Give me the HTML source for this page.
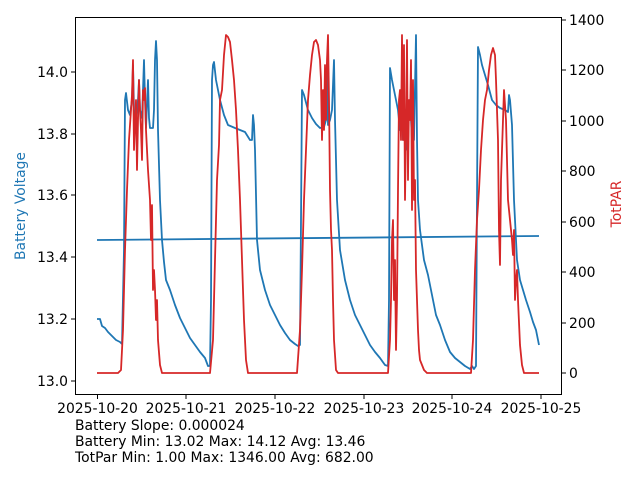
<!DOCTYPE html>
<html><head><meta charset="utf-8"><style>body{margin:0;background:#fff}svg{display:block;font-family:"DejaVu Sans","Liberation Sans",sans-serif}</style></head><body>
<svg width="640" height="480" viewBox="0 0 640 480" xmlns="http://www.w3.org/2000/svg">
<rect width="640" height="480" fill="#fff"/>
<g fill="none" stroke-linejoin="round" stroke-width="1.8">
<polyline stroke="#1f77b4" points="97,240 539,236"/>
<polyline stroke="#1f77b4" points="97,319 100,319 102,326 105,328 108,332 112,336 116,340 120,342 122,344 124,250 125,100 126,93 128,110 130,115 132,100 133,65 134,110 136,118 138,100 139,80 140,110 142,118 143,90 144,60 145,100 146,128 148,80 149,118 150,128 153,128 154,110 155,60 156,41 157,60 158,130 160,200 162,240 164,262 166,280 170,290 175,305 180,318 185,328 190,338 195,345 200,352 205,358 208,366 210,366 211,300 212,80 213,65 214,62 216,80 220,100 224,115 228,125 235,128 240,130 245,132 250,140 252,140 253,115 254,125 255,150 257,240 260,270 265,290 270,305 275,315 280,325 285,333 290,340 295,344 298,346 300,345 301,220 302,90 304,95 308,110 312,118 316,124 320,128 324,127 326,120 327,63 328,125 330,120 332,110 334,60 335,120 337,200 340,250 345,280 350,300 355,315 360,325 365,335 370,345 375,352 380,358 385,365 388,366 389,300 390,68 392,80 395,95 398,110 400,130 402,100 403,140 405,110 406,150 408,130 410,100 412,140 414,140 416,35 417,140 418,200 420,230 424,260 428,275 432,295 436,315 440,325 445,340 450,352 455,358 460,362 465,366 470,369 472,366 474,369 476,366 477,200 478,47 480,55 482,65 485,75 488,85 492,100 496,105 500,108 505,110 508,112 509,95 510,100 512,125 514,200 517,260 520,280 523,290 526,300 530,312 533,322 536,330 538,340 539,345"/>
<polyline stroke="#d62728" points="97,373 118,373 121,370 123,330 125,250 127,190 129,140 131,110 132,95 133,60 134,150 136,100 137,170 138,120 139,80 140,110 141,130 142,160 143,90 144,100 145,88 146,130 148,170 150,200 151,240 152,205 153,290 154,270 155,290 156,320 157,300 158,340 160,365 162,373 210,373 213,340 215,260 217,180 219,145 220,100 222,90 224,55 226,35 228,37 230,42 232,60 234,80 236,110 238,150 240,200 242,260 244,320 246,360 248,373 297,373 300,330 302,270 304,200 306,150 308,100 310,75 312,55 314,42 316,40 318,45 320,60 321,80 322,140 323,90 324,130 325,65 326,120 327,60 328,35 329,100 330,190 331,230 332,250 333,300 334,340 336,370 338,373 388,373 390,340 391,300 392,240 393,220 394,300 395,260 396,350 397,300 398,190 399,100 400,90 401,140 402,35 403,140 404,45 405,200 406,130 407,40 408,180 409,100 410,120 411,60 412,210 413,80 414,200 415,180 416,270 417,300 418,330 419,350 420,360 422,365 424,370 427,373 471,373 473,340 475,270 477,220 479,190 481,150 483,120 485,100 487,90 489,70 491,55 493,48 495,55 496,80 498,140 499,230 500,265 501,180 502,150 504,90 506,120 508,200 510,220 512,240 513,255 514,230 515,300 516,280 517,270 518,300 520,345 522,365 524,373 539,373"/>
</g>
<rect x="75.5" y="17.5" width="486" height="377" fill="none" stroke="#000" stroke-width="1"/>
<g stroke="#000" stroke-width="1">
<line x1="71" y1="381" x2="75" y2="381"/><line x1="71" y1="319" x2="75" y2="319"/><line x1="71" y1="257" x2="75" y2="257"/><line x1="71" y1="195" x2="75" y2="195"/><line x1="71" y1="134" x2="75" y2="134"/><line x1="71" y1="72" x2="75" y2="72"/>
<line x1="562" y1="373" x2="566" y2="373"/><line x1="562" y1="323" x2="566" y2="323"/><line x1="562" y1="272" x2="566" y2="272"/><line x1="562" y1="222" x2="566" y2="222"/><line x1="562" y1="171" x2="566" y2="171"/><line x1="562" y1="121" x2="566" y2="121"/><line x1="562" y1="70" x2="566" y2="70"/><line x1="562" y1="20" x2="566" y2="20"/>
<line x1="97.5" y1="395" x2="97.5" y2="399"/><line x1="186" y1="395" x2="186" y2="399"/><line x1="275" y1="395" x2="275" y2="399"/><line x1="364" y1="395" x2="364" y2="399"/><line x1="452" y1="395" x2="452" y2="399"/><line x1="541" y1="395" x2="541" y2="399"/>
</g>
<g font-size="13.9" fill="#000">
<g text-anchor="end"><text x="68" y="77" dy="0">14.0</text><text x="68" y="139">13.8</text><text x="68" y="200">13.6</text><text x="68" y="262">13.4</text><text x="68" y="324">13.2</text><text x="68" y="386">13.0</text></g>
<g text-anchor="start"><text x="569" y="378">0</text><text x="569" y="328">200</text><text x="569" y="277">400</text><text x="569" y="227">600</text><text x="569" y="176">800</text><text x="569" y="126">1000</text><text x="569" y="75">1200</text><text x="569" y="25">1400</text></g>
<g text-anchor="middle"><text x="97.5" y="413">2025-10-20</text><text x="186" y="413">2025-10-21</text><text x="275" y="413">2025-10-22</text><text x="364" y="413">2025-10-23</text><text x="452" y="413">2025-10-24</text><text x="541" y="413">2025-10-25</text></g>
<text x="25" y="206" fill="#1f77b4" text-anchor="middle" transform="rotate(-90 25 206)">Battery Voltage</text>
<text x="621" y="204" fill="#d62728" text-anchor="middle" transform="rotate(-90 621 204)">TotPAR</text>
<text x="75" y="430">Battery Slope: 0.000024</text>
<text x="75" y="446">Battery Min: 13.02 Max: 14.12 Avg: 13.46</text>
<text x="75" y="462">TotPar Min: 1.00 Max: 1346.00 Avg: 682.00</text>
</g>
</svg>
</body></html>
